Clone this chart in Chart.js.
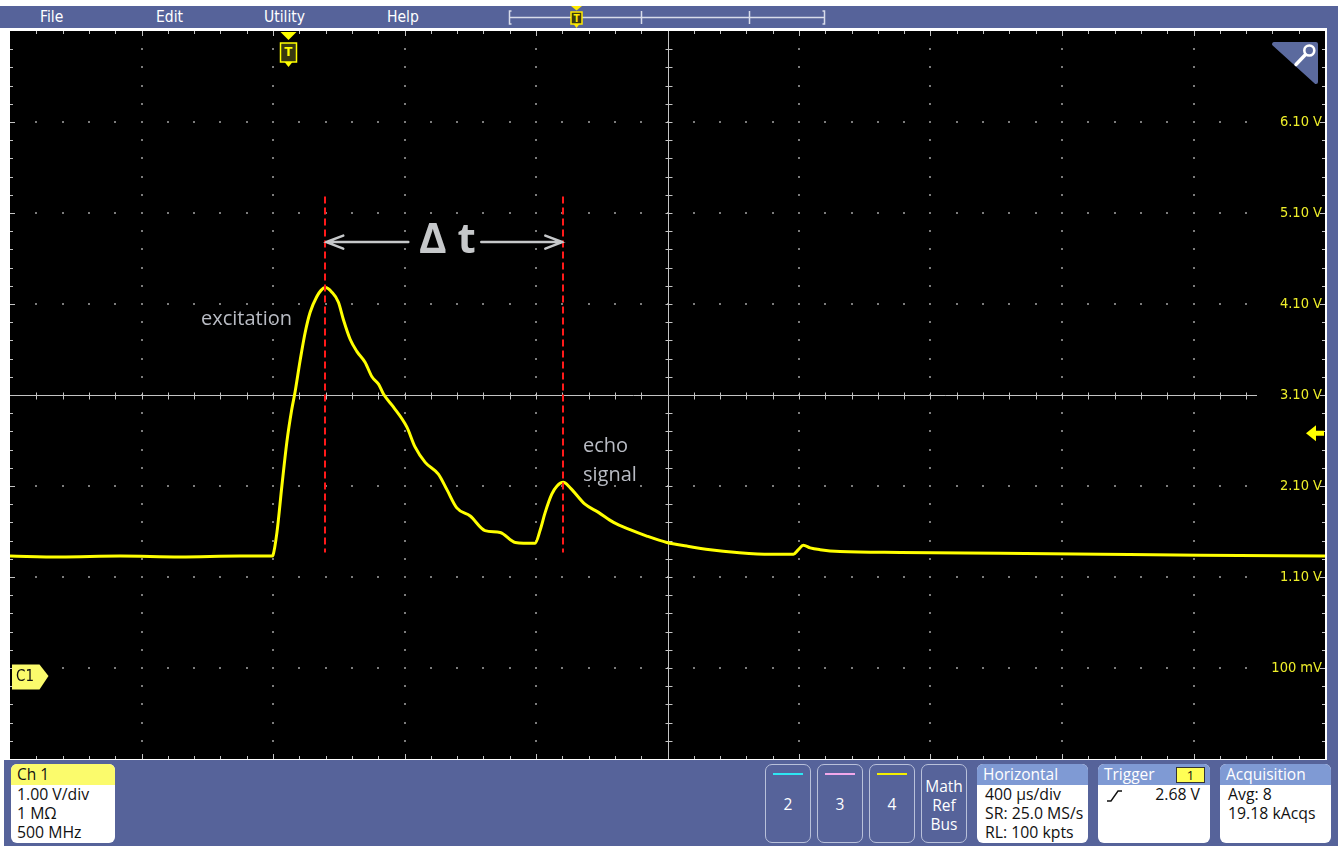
<!DOCTYPE html>
<html>
<head>
<meta charset="utf-8">
<script src="https://cdn.jsdelivr.net/npm/chart.js@4.4.1/dist/chart.umd.min.js"></script>
<style>
  html, body { margin: 0; padding: 0; background: #fff; width: 1338px; height: 846px; overflow: hidden; position: relative; font-family: "Open Sans", sans-serif; }
  .abs { position: absolute; }
  #menubar { left: 0; top: 6px; width: 1338px; height: 22px; background: #56639a; }
  .menu { position: absolute; top: 0; color: #fff; font: 15.5px "DejaVu Sans Condensed", "DejaVu Sans", sans-serif; line-height: 22px; }
  #rightbar { left: 1327px; top: 28px; width: 11px; height: 732px; background: #56639a; }
  #bottombar { left: 4px; top: 760px; width: 1334px; height: 86px; background: #56639a; }
  #scope { left: 10px; top: 31px; width: 1315px; height: 728px; background: #000; }
  .box { position: absolute; top: 764px; height: 79px; background: #fff; border-radius: 6px; overflow: hidden; font-size: 15.8px; color: #111; }
  .hdr { height: 21px; background: #7f9ad4; color: #fff; line-height: 21px; padding-left: 6px; position: relative; font-size: 15.5px; }
  .ln { line-height: 19px; padding-left: 8px; white-space: nowrap; }
  .btn { position: absolute; top: 764px; width: 44px; height: 77px; border: 1px solid #b9c1da; border-radius: 7px; color: #fff; font-size: 15.5px; text-align: center; }
  .btn .bar { position: absolute; left: 7px; right: 7px; top: 8px; height: 2px; }
  .btn .num { position: absolute; left: 0; right: 0; top: 29px; line-height: 20px; }
</style>
</head>
<body>
<div id="menubar" class="abs">
  <span class="menu" style="left:40px">File</span>
  <span class="menu" style="left:156px">Edit</span>
  <span class="menu" style="left:264px">Utility</span>
  <span class="menu" style="left:387px">Help</span>
</div>
<!-- record-length overview with the trigger position -->
<svg class="abs" style="left:500px;top:0" width="340" height="30">
  <g stroke="#d8dcea" stroke-width="1.5" fill="none">
    <path d="M11.5 11 H9.5 V24 H11.5"/>
    <path d="M322.5 11 H324.5 V24 H322.5"/>
    <line x1="10" y1="17.5" x2="324" y2="17.5"/>
    <line x1="141.5" y1="11" x2="141.5" y2="24"/>
    <line x1="249.5" y1="11" x2="249.5" y2="24"/>
  </g>
  <polygon points="71,6 82,6 76.5,10.5" fill="#ffea00"/>
  <rect x="71" y="12" width="11" height="12" fill="#3a3a12" stroke="#ffea00" stroke-width="1.5"/>
  <polygon points="73.5,24 79.5,24 76.5,28" fill="#ffea00"/>
  <text x="76.5" y="22" text-anchor="middle" font-family="DejaVu Sans Condensed" font-weight="bold" font-size="10" fill="#ffea00">T</text>
</svg>
<div id="rightbar" class="abs"></div>
<div id="scope" class="abs"><canvas id="c" width="1315" height="728"></canvas></div>
<!-- zoom tool corner -->
<svg class="abs" style="left:1268px;top:40px" width="54" height="48">
  <polygon points="6,4 48,4 48,42" fill="#5b6a9e" stroke="#5b6a9e" stroke-width="4" stroke-linejoin="round"/>
  <circle cx="41.3" cy="10.5" r="5" fill="none" stroke="#fff" stroke-width="2.6"/>
  <line x1="37.3" y1="14.8" x2="28" y2="24.5" stroke="#fff" stroke-width="3.4" stroke-linecap="round"/>
</svg>

<div id="bottombar" class="abs"></div>
<div class="box" style="left:11px;width:104px;">
  <div class="hdr" style="background:#fbfb6c;color:#111;">Ch 1</div>
  <div class="ln" style="padding-left:6px">1.00 V/div</div>
  <div class="ln" style="padding-left:6px">1 MΩ</div>
  <div class="ln" style="padding-left:6px">500 MHz</div>
</div>
<div class="btn" style="left:765px"><div class="bar" style="background:#2ee6f2"></div><div class="num">2</div></div>
<div class="btn" style="left:817px"><div class="bar" style="background:#f2a8ea"></div><div class="num">3</div></div>
<div class="btn" style="left:869px"><div class="bar" style="background:#f4f000"></div><div class="num">4</div></div>
<div class="btn" style="left:921px;line-height:19px;padding-top:12px;height:65px">Math<br>Ref<br>Bus</div>
<div class="box" style="left:977px;width:111px;">
  <div class="hdr">Horizontal</div>
  <div class="ln">400 µs/div</div>
  <div class="ln">SR: 25.0 MS/s</div>
  <div class="ln">RL: 100 kpts</div>
</div>
<div class="box" style="left:1098px;width:112px;">
  <div class="hdr">Trigger<span style="position:absolute;left:78px;top:3px;width:27px;height:14px;background:#ffff55;border:1px solid #333;color:#111;font-size:13px;line-height:14px;text-align:center;">1</span></div>
  <div class="ln" style="position:relative;">
    <svg style="position:absolute;left:8px;top:4px" width="18" height="13"><polyline points="1,12 5,12 12,2 16,2" fill="none" stroke="#111" stroke-width="1.4"/></svg>
    <span style="position:absolute;right:10px;top:0">2.68 V</span>&nbsp;
  </div>
</div>
<div class="box" style="left:1220px;width:111px;">
  <div class="hdr">Acquisition</div>
  <div class="ln">Avg: 8</div>
  <div class="ln">19.18 kAcqs</div>
</div>

<script>
// Channel 1 record: time relative to trigger (µs) and voltage (V)
const timeUs = [-846, -694, -511, -329, -146, -49, -46, -34, -19, -4, 11, 21, 37, 52, 67, 87, 100, 113, 133, 153,
  168, 189, 209, 234, 255, 275, 290, 320, 361, 386, 417, 457, 483, 513, 554, 599, 645, 691, 751, 767,
  782, 802, 818, 837, 858, 903, 944, 990, 1040, 1091, 1152, 1213, 1284, 1365, 1466, 1537, 1552, 1567, 1588, 1618,
  1679, 1862, 2166, 2470, 2774, 3154];
const volts = [1.33, 1.32, 1.33, 1.32, 1.33, 1.33, 1.34, 1.59, 2.10, 2.58, 2.94, 3.13, 3.49, 3.79, 4.01, 4.18, 4.25, 4.28, 4.23, 4.12,
  3.93, 3.71, 3.58, 3.46, 3.30, 3.22, 3.11, 2.97, 2.75, 2.53, 2.36, 2.23, 2.06, 1.86, 1.77, 1.61, 1.59, 1.48, 1.47, 1.62,
  1.81, 2.01, 2.10, 2.14, 2.08, 1.90, 1.81, 1.70, 1.62, 1.55, 1.48, 1.44, 1.40, 1.37, 1.35, 1.35, 1.40, 1.45, 1.42, 1.40,
  1.38, 1.37, 1.36, 1.35, 1.34, 1.33];

// Screen: 10 horizontal divisions of 400 µs, 8 vertical divisions of 1 V
const timeRangeUs = [-846, 3154];
const voltRange = [-0.9, 7.1];
const X_DIVS = 10, Y_DIVS = 8, MINOR = 5;

const triggerTimeUs = 0;
const triggerLevelV = 2.68;
const channelOffsetV = 0;

// Measurement markers
const excitationPeakUs = 113;
const echoPeakUs = 837;
const markerSpanV = [1.37, 5.28];
const deltaArrowV = 4.78;
const deltaTextV = 4.655;
const noteLabels = [
  { text: 'excitation', t: -265, v: 3.865 },
  { text: 'echo', t: 897, v: 2.47 },
  { text: 'signal', t: 897, v: 2.15 }
];

const YELLOW = '#ffff00';

function voltLabel(v) {
  if (Math.abs(v - voltRange[1]) < 0.01 || Math.abs(v - voltRange[0]) < 0.01) return null;
  if (Math.abs(v) < 0.95) return Math.round(v * 1000) + ' mV';
  return v.toFixed(2) + ' V';
}

const graticule = {
  id: 'graticule',
  beforeDatasetsDraw(chart) {
    const { ctx, chartArea: a, scales: { x, y } } = chart;
    const xStep = (x.max - x.min) / X_DIVS / MINOR;
    const yStep = (y.max - y.min) / Y_DIVS / MINOR;
    const px = k => Math.round(x.getPixelForValue(x.min + k * xStep));
    const py = k => Math.round(y.getPixelForValue(y.min + k * yStep));
    ctx.save();
    // dotted division lines
    ctx.fillStyle = '#7c7c7c';
    for (let i = 1; i < X_DIVS; i++) {
      if (i === X_DIVS / 2) continue;
      const cx = px(i * MINOR);
      for (let j = 1; j < Y_DIVS * MINOR; j++) ctx.fillRect(cx - 1, py(j) - 1, 2, 2);
    }
    for (let j = 1; j < Y_DIVS; j++) {
      if (j === Y_DIVS / 2) continue;
      const cy = py(j * MINOR);
      for (let i = 1; i < X_DIVS * MINOR; i++) {
        const cx = px(i);
        if (cx > a.right - 62) break;
        ctx.fillRect(cx - 1, cy - 1, 2, 2);
      }
    }
    // centre cross with minor ticks
    ctx.strokeStyle = '#c4c4c4';
    ctx.lineWidth = 1;
    const mx = px(X_DIVS * MINOR / 2) + 0.5;
    const my = py(Y_DIVS * MINOR / 2) + 0.5;
    ctx.beginPath();
    ctx.moveTo(mx, a.top); ctx.lineTo(mx, a.bottom);
    ctx.moveTo(a.left, my); ctx.lineTo(a.right - 68, my);
    for (let j = 1; j < Y_DIVS * MINOR; j++) {
      const yy = py(j) + 0.5;
      ctx.moveTo(mx - 3, yy); ctx.lineTo(mx + 4, yy);
    }
    for (let i = 1; i < X_DIVS * MINOR; i++) {
      const xx = px(i) + 0.5;
      if (xx > a.right - 68) break;
      ctx.moveTo(xx, my - 3); ctx.lineTo(xx, my + 4);
    }
    // edge ticks
    for (let i = 1; i < X_DIVS * MINOR; i++) {
      const xx = px(i) + 0.5, len = i % MINOR === 0 ? 5 : 3;
      ctx.moveTo(xx, a.top); ctx.lineTo(xx, a.top + len);
      ctx.moveTo(xx, a.bottom); ctx.lineTo(xx, a.bottom - len);
    }
    for (let j = 1; j < Y_DIVS * MINOR; j++) {
      const yy = py(j) + 0.5, len = j % MINOR === 0 ? 5 : 3;
      ctx.moveTo(a.left, yy); ctx.lineTo(a.left + len, yy);
      ctx.moveTo(a.right, yy); ctx.lineTo(a.right - len, yy);
    }
    ctx.stroke();
    ctx.restore();
  }
};

const overlays = {
  id: 'overlays',
  afterDatasetsDraw(chart) {
    const { ctx, chartArea: a, scales: { x, y } } = chart;
    ctx.save();

    // dashed markers at the two peaks
    ctx.strokeStyle = '#ff1a1a';
    ctx.lineWidth = 2;
    ctx.setLineDash([7, 4]);
    for (const t of [excitationPeakUs, echoPeakUs]) {
      const xx = Math.round(x.getPixelForValue(t));
      ctx.beginPath();
      ctx.moveTo(xx, y.getPixelForValue(markerSpanV[1]));
      ctx.lineTo(xx, y.getPixelForValue(markerSpanV[0]));
      ctx.stroke();
    }
    ctx.setLineDash([]);

    // Δt arrow between the markers
    const x1 = x.getPixelForValue(excitationPeakUs), x2 = x.getPixelForValue(echoPeakUs);
    const xm = (x1 + x2) / 2;
    const ay = y.getPixelForValue(deltaArrowV);
    ctx.strokeStyle = '#c6c8ca';
    ctx.lineWidth = 2.5;
    ctx.lineCap = 'round';
    ctx.beginPath();
    ctx.moveTo(x1 + 1, ay); ctx.lineTo(xm - 36, ay);
    ctx.moveTo(x1 + 18, ay - 6.5); ctx.lineTo(x1 + 1, ay); ctx.lineTo(x1 + 18, ay + 6.5);
    ctx.moveTo(xm + 37, ay); ctx.lineTo(x2 - 1, ay);
    ctx.moveTo(x2 - 18, ay - 6.5); ctx.lineTo(x2 - 1, ay); ctx.lineTo(x2 - 18, ay + 6.5);
    ctx.stroke();
    ctx.fillStyle = '#c6c8ca';
    ctx.font = 'bold 42px "Open Sans", sans-serif';
    ctx.textAlign = 'center';
    ctx.textBaseline = 'alphabetic';
    ctx.fillText('Δ t', xm + 3, y.getPixelForValue(deltaTextV));

    // notes
    ctx.fillStyle = '#b9bcc4';
    ctx.font = '20px "Open Sans", sans-serif';
    ctx.textAlign = 'left';
    for (const n of noteLabels) ctx.fillText(n.text, x.getPixelForValue(n.t), y.getPixelForValue(n.v));

    // trigger position marker
    const tx = Math.round(x.getPixelForValue(triggerTimeUs)) + 0.5;
    ctx.fillStyle = YELLOW;
    ctx.beginPath();
    ctx.moveTo(tx - 8, a.top + 1); ctx.lineTo(tx + 8, a.top + 1); ctx.lineTo(tx, a.top + 9);
    ctx.closePath(); ctx.fill();
    ctx.fillStyle = '#383810';
    ctx.strokeStyle = YELLOW;
    ctx.lineWidth = 1.5;
    ctx.fillRect(tx - 8, a.top + 12, 16, 19);
    ctx.strokeRect(tx - 8, a.top + 12, 16, 19);
    ctx.fillStyle = YELLOW;
    ctx.beginPath();
    ctx.moveTo(tx - 4, a.top + 31); ctx.lineTo(tx + 4, a.top + 31); ctx.lineTo(tx, a.top + 36);
    ctx.closePath(); ctx.fill();
    ctx.font = 'bold 13px "DejaVu Sans Condensed", sans-serif';
    ctx.textAlign = 'center';
    ctx.textBaseline = 'middle';
    ctx.fillText('T', tx, a.top + 22);

    // channel 1 ground reference
    const gy = y.getPixelForValue(channelOffsetV);
    ctx.fillStyle = '#fbfb6c';
    ctx.beginPath();
    ctx.moveTo(a.left + 2, gy - 12.5); ctx.lineTo(a.left + 29.5, gy - 12.5);
    ctx.lineTo(a.left + 38.5, gy - 1); ctx.lineTo(a.left + 29.5, gy + 12.5);
    ctx.lineTo(a.left + 2, gy + 12.5); ctx.closePath(); ctx.fill();
    ctx.fillStyle = '#111';
    ctx.font = '15px "DejaVu Sans Condensed", sans-serif';
    ctx.textAlign = 'left';
    ctx.fillText('C1', a.left + 6, gy);

    // trigger level arrow
    const ty = y.getPixelForValue(triggerLevelV);
    ctx.fillStyle = YELLOW;
    ctx.beginPath();
    ctx.moveTo(a.right - 19, ty); ctx.lineTo(a.right - 9, ty - 8); ctx.lineTo(a.right - 9, ty - 2.5);
    ctx.lineTo(a.right - 1, ty - 2.5); ctx.lineTo(a.right - 1, ty + 2.5); ctx.lineTo(a.right - 9, ty + 2.5);
    ctx.lineTo(a.right - 9, ty + 8); ctx.closePath(); ctx.fill();

    ctx.restore();
  }
};

new Chart(document.getElementById('c'), {
  type: 'line',
  data: {
    datasets: [{
      data: timeUs.map((t, i) => ({ x: t, y: volts[i] })),
      borderColor: YELLOW,
      borderWidth: 3,
      pointRadius: 0,
      cubicInterpolationMode: 'monotone',
      fill: false
    }]
  },
  options: {
    responsive: false,
    animation: false,
    events: [],
    layout: { padding: 0 },
    plugins: { legend: { display: false }, tooltip: { enabled: false } },
    scales: {
      x: { type: 'linear', min: timeRangeUs[0], max: timeRangeUs[1], display: false },
      y: {
        type: 'linear', min: voltRange[0], max: voltRange[1], position: 'right',
        grid: { display: false, drawTicks: false }, border: { display: false },
        afterFit: s => { s.width = 0; s.paddingTop = 0; s.paddingBottom = 0; },
        ticks: {
          stepSize: 1, mirror: true, padding: -3, autoSkip: false,
          color: '#eeee2a',
          font: { family: '"DejaVu Sans Condensed", "DejaVu Sans", sans-serif', size: 14.5 },
          callback: v => voltLabel(v)
        }
      }
    }
  },
  plugins: [graticule, overlays]
});
</script>
</body>
</html>
